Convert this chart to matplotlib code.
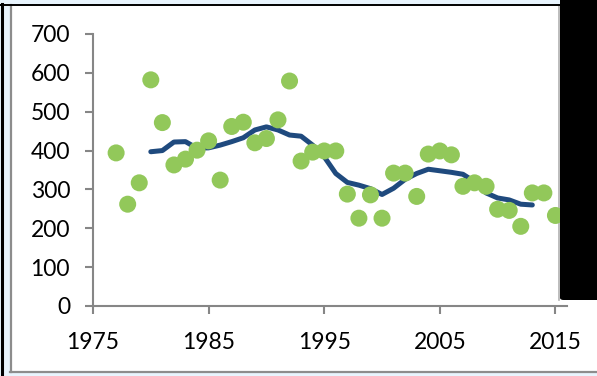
import matplotlib.pyplot as plt
from matplotlib.patches import Rectangle, FancyBboxPatch
from matplotlib.lines import Line2D

# annual values (scatter)
years = list(range(1977, 2016))
values = [394, 262, 317, 582, 472, 363, 378, 401, 425, 324,
          462, 473, 420, 431, 479, 579, 373, 396, 399, 399,
          288, 226, 286, 226, 342, 342, 282, 391, 399, 389,
          308, 317, 308, 249, 246, 205, 291, 291, 233]

# smoothed trend (moving average)
trend_years = list(range(1980, 2014))
trend_values = [397, 400, 422, 423, 406, 407, 414, 423, 433, 453,
                461, 453, 440, 437, 414, 384, 341, 318, 311, 302,
                287, 303, 326, 341, 352, 348, 344, 339, 320, 291,
                278, 273, 262, 260]

W, H = 597, 376
fig = plt.figure(figsize=(W / 100, H / 100), dpi=100, facecolor='#e8f4fd')

def px(x, y):
    # pixel coords (origin top-left) -> figure fraction
    return x / W, 1 - y / H

# white chart area with grey left/bottom edges
x0, y0 = px(10, 372)
fig.patches.append(Rectangle((x0, y0), 1 - x0, (372 - 5) / H,
                             transform=fig.transFigure, facecolor='white',
                             edgecolor='none', zorder=0))
for (xa, ya), (xb, yb), c, lw in [
        (px(10.5, 5), px(10.5, 372), '#8c8c8c', 1.6),
        (px(10, 372), px(597, 372), '#8c8c8c', 1.6),
        (px(559, 5), px(559, 300), '#b0b0b0', 1.2),
        (px(0, 4.5), px(560, 4.5), 'black', 1.4),
        (px(2, 4), px(2, 376), 'black', 2.2)]:
    fig.lines.append(Line2D([xa, xb], [ya, yb], transform=fig.transFigure,
                            color=c, lw=lw, zorder=1))

# black block on the right
bx, by = px(560, 300)
fig.patches.append(FancyBboxPatch((bx, by), 1 - bx + 0.02, 300 / H + 0.02,
                                  boxstyle='round,pad=0,rounding_size=0.006',
                                  transform=fig.transFigure, facecolor='black',
                                  edgecolor='none', zorder=5))

left, bottom = px(93, 306)
right, top = px(567, 34)
ax = fig.add_axes([left, bottom, right - left, top - bottom])
ax.set_zorder(3)
ax.set_facecolor('none')

ax.plot(trend_years, trend_values, color='#1f4a7e', lw=3.6,
        solid_capstyle='round', solid_joinstyle='round', zorder=2)
ax.scatter(years, values, s=150, color='#92c85a', edgecolor='none',
           zorder=3, clip_on=False)

ax.set_xlim(1975, 2016)
ax.set_ylim(0, 700)
ax.set_xticks(range(1975, 2016, 10))
ax.set_yticks(range(0, 701, 100))

for side in ['top', 'right']:
    ax.spines[side].set_visible(False)
for side in ['left', 'bottom']:
    ax.spines[side].set_color('#868686')
    ax.spines[side].set_linewidth(1.5)

ax.tick_params(direction='out', length=5.5, width=1.5, color='#868686',
               labelsize=16.5, labelcolor='black')
ax.tick_params(axis='y', pad=11)
ax.tick_params(axis='x', pad=13.5)
for lbl in ax.get_xticklabels() + ax.get_yticklabels():
    lbl.set_family('Lato')

fig.savefig('out.png', dpi=100, facecolor=fig.get_facecolor())
